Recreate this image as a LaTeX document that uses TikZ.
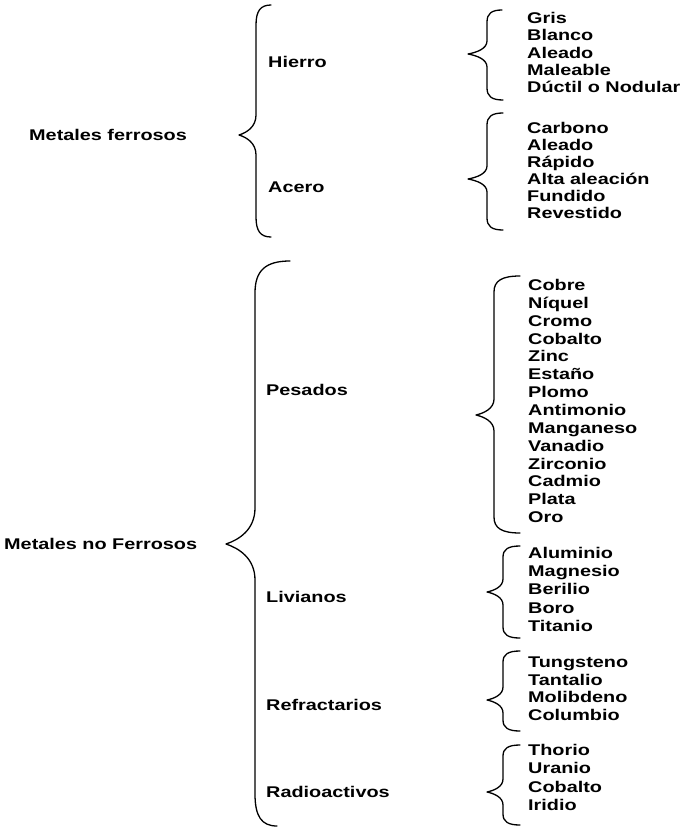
\documentclass[tikz,border=0pt]{standalone}
\usepackage{fontspec}
\newfontfamily\lblfam{Liberation Sans}[FakeStretch=1.28]
\newcommand\lblfont{\lblfam\bfseries\fontsize{15.5}{18}\selectfont}
% #1 xend top, #2 xend bottom, #3 x of vertical, #4 x of tip,
% #5 y top, #6 y tip, #7 y bottom, #8 end radius, #9 tip radius
\newcommand\curly[9]{%
  \draw[brc] (#1,#5) .. controls ({#3+0.3*(#1-#3)},#5) and (#3,{#5+0.3*#8}) .. (#3,{#5+#8})
    -- (#3,{#6-#9}) .. controls (#3,{#6-0.4*#9}) and ({#4+0.45*(#3-#4)},{#6-0.12*#9}) .. (#4,#6)
    .. controls ({#4+0.45*(#3-#4)},{#6+0.12*#9}) and (#3,{#6+0.4*#9}) .. (#3,{#6+#9})
    -- (#3,{#7-#8}) .. controls (#3,{#7-0.3*#8}) and ({#3+0.3*(#2-#3)},#7) .. (#2,#7);}
\begin{document}
\begin{tikzpicture}[x=1pt,y=-1pt,
  lbl/.style={anchor=base west, inner sep=0pt, font=\lblfont},
  brc/.style={line width=1.3pt, line join=round, line cap=round}]
\useasboundingbox[fill=white] (0,0) rectangle (689,829);

% level 0
\node[lbl] (ferrosos) at (29,140.5) {Metales ferrosos};
\node[lbl] (noferrosos) at (4,549.5) {Metales no Ferrosos};

% level 1
\node[lbl] (hierro) at (268,67.5) {Hierro};
\node[lbl] (acero) at (268,192.5) {Acero};
\node[lbl] (pesados) at (266,395.5) {Pesados};
\node[lbl] (livianos) at (266,602.5) {Livianos};
\node[lbl] (refractarios) at (266,710) {Refractarios};
\node[lbl] (radioactivos) at (266,797) {Radioactivos};

% big braces
\curly{271}{271}{256}{239}{5}{135}{237}{20}{20}
\curly{290}{277}{255}{226}{261}{544}{826}{32}{36}

% leaves
\foreach \t [count=\i from 0] in {Gris,Blanco,Aleado,Maleable,Dúctil o Nodular}
  \node[lbl] (hierro-\i) at (527,{23.5+17.3*\i}) {\t};
\curly{502}{503}{487}{468}{10}{54}{100}{12}{13}

\foreach \t [count=\i from 0] in {Carbono,Aleado,Rápido,Alta aleación,Fundido,Revestido}
  \node[lbl] (acero-\i) at (527,{133.5+17*\i}) {\t};
\curly{503}{503}{487}{468}{113}{179}{230}{12}{13}

\foreach \t [count=\i from 0] in {Cobre,Níquel,Cromo,Cobalto,Zinc,Estaño,Plomo,Antimonio,Manganeso,Vanadio,Zirconio,Cadmio,Plata,Oro}
  \node[lbl] (pesados-\i) at (528,{290.5+17.85*\i}) {\t};
\curly{520}{520}{494}{476}{276}{415}{533}{16}{16}

\foreach \t [count=\i from 0] in {Aluminio,Magnesio,Berilio,Boro,Titanio}
  \node[lbl] (livianos-\i) at (528,{558.5+18.2*\i}) {\t};
\curly{520}{520}{503}{487}{546}{592}{638}{11}{13}

\foreach \t [count=\i from 0] in {Tungsteno,Tantalio,Molibdeno,Columbio}
  \node[lbl] (refractarios-\i) at (528,{667.5+17.7*\i}) {\t};
\curly{520}{520}{503}{487}{651}{700}{731}{11}{13}

\foreach \t [count=\i from 0] in {Thorio,Uranio,Cobalto,Iridio}
  \node[lbl] (radioactivos-\i) at (528,{755.5+18.3*\i}) {\t};
\curly{520}{520}{503}{487}{745}{792}{825}{11}{13}
\end{tikzpicture}
\end{document}
